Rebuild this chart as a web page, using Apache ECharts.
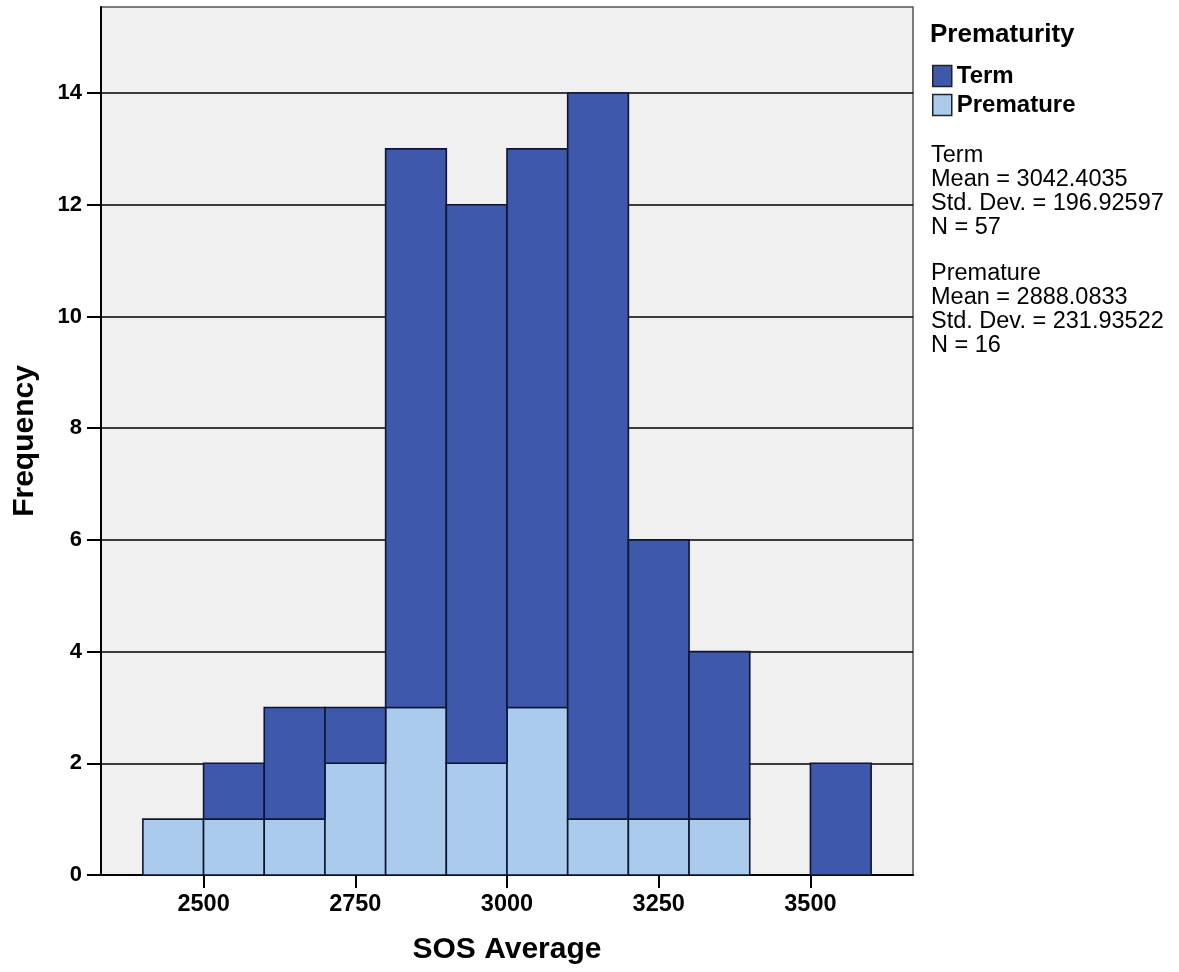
<!DOCTYPE html>
<html>
<head>
<meta charset="utf-8">
<script src="https://cdn.jsdelivr.net/npm/echarts@6/dist/echarts.min.js"></script>
<style>html,body{margin:0;padding:0;background:#fff}#c{width:1179px;height:972px}</style>
</head>
<body>
<div id="c"></div>
<script>
// Histogram bins (SOS Average), width 100
const binStarts = [2400, 2500, 2600, 2700, 2800, 2900, 3000, 3100, 3200, 3300, 3400, 3500];
const binWidth = 100;
const prematureCounts = [1, 1, 1, 2, 3, 2, 3, 1, 1, 1, 0, 0];
const termCounts = [0, 1, 2, 1, 10, 10, 10, 13, 5, 3, 0, 2];
const xTicks = [2500, 2750, 3000, 3250, 3500];
const yTicks = [0, 2, 4, 6, 8, 10, 12, 14];
const termStats = ['Term', 'Mean = 3042.4035', 'Std. Dev. = 196.92597', 'N = 57'];
const prematureStats = ['Premature', 'Mean = 2888.0833', 'Std. Dev. = 231.93522', 'N = 16'];

const FONT = '"Liberation Sans", Arial, sans-serif';
const TERM_COLOR = '#3e58ac';
const PREM_COLOR = '#aacbeb';

const premData = binStarts.map((s, i) => [s, s + binWidth, 0, prematureCounts[i]]);
const termData = binStarts.map((s, i) => [s, s + binWidth, prematureCounts[i], prematureCounts[i] + termCounts[i]]);

function renderBar(params, api) {
  const x0 = api.value(0), x1 = api.value(1), y0 = api.value(2), y1 = api.value(3);
  if (y1 <= y0) return null;
  const p0 = api.coord([x0, y0]);
  const p1 = api.coord([x1, y1]);
  return {
    type: 'rect',
    shape: { x: p0[0], y: p1[1], width: p1[0] - p0[0], height: p0[1] - p1[1] },
    style: { fill: api.visual('color'), stroke: '#0d1530', lineWidth: 1.6 }
  };
}

const chart = echarts.init(document.getElementById('c'), null, { renderer: 'canvas' });
chart.setOption({
  animation: false,
  backgroundColor: '#fff',
  textStyle: { fontFamily: FONT },
  grid: {
    left: 101, right: 266, top: 7, bottom: 97,
    show: true, backgroundColor: '#f0f0f0', borderColor: '#555', borderWidth: 1.5
  },
  xAxis: {
    type: 'value', min: 2331, max: 3669,
    name: 'SOS Average', nameLocation: 'middle', nameGap: 60,
    nameTextStyle: { fontSize: 30, fontWeight: 'bold', color: '#000', fontFamily: FONT },
    axisLine: { show: true, lineStyle: { color: '#000', width: 2 } },
    axisTick: { show: true, customValues: xTicks, length: 13, lineStyle: { color: '#000', width: 2 } },
    axisLabel: { customValues: xTicks, formatter: v => String(v), margin: 18, fontSize: 23.5, fontWeight: 'bold', color: '#000', fontFamily: FONT },
    splitLine: { show: false }
  },
  yAxis: {
    type: 'value', min: 0, max: 15.54, interval: 2,
    name: 'Frequency', nameLocation: 'middle', nameGap: 61,
    nameTextStyle: { fontSize: 30, fontWeight: 'bold', color: '#000', fontFamily: FONT },
    axisLine: { show: true, lineStyle: { color: '#000', width: 2 } },
    axisTick: { show: true, customValues: yTicks, length: 14, lineStyle: { color: '#000', width: 2 } },
    axisLabel: { customValues: yTicks, formatter: v => String(v), margin: 19, fontSize: 22, fontWeight: 'bold', color: '#000', fontFamily: FONT },
    splitLine: { show: true, lineStyle: { color: '#000', width: 1.6 } }
  },
  legend: {
    orient: 'vertical', left: 927, top: 59,
    itemWidth: 19, itemHeight: 21, itemGap: 5,
    data: [{ name: 'Term', icon: 'rect' }, { name: 'Premature', icon: 'rect' }],
    itemStyle: { borderColor: '#222', borderWidth: 1.5 },
    textStyle: { fontSize: 24, fontWeight: 'bold', color: '#000', fontFamily: FONT },
    selectedMode: false
  },
  graphic: [
    { type: 'text', left: 930, top: 22, style: { text: 'Prematurity', font: 'bold 26px ' + FONT, fill: '#000' } },
    { type: 'text', left: 931, top: 144, style: { text: termStats.join('\n'), font: '23.5px ' + FONT, lineHeight: 23.7, fill: '#000' } },
    { type: 'text', left: 931, top: 262, style: { text: prematureStats.join('\n'), font: '23.5px ' + FONT, lineHeight: 23.7, fill: '#000' } }
  ],
  series: [
    { name: 'Premature', type: 'custom', renderItem: renderBar, data: premData, encode: { x: [0, 1], y: [2, 3] }, itemStyle: { color: PREM_COLOR } },
    { name: 'Term', type: 'custom', renderItem: renderBar, data: termData, encode: { x: [0, 1], y: [2, 3] }, itemStyle: { color: TERM_COLOR } }
  ]
});
</script>
</body>
</html>
